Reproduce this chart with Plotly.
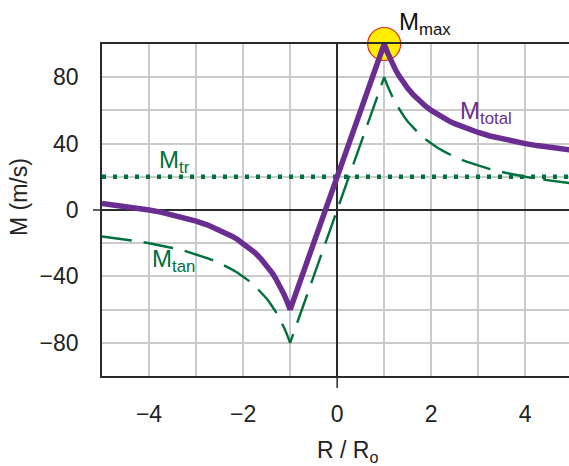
import plotly.graph_objects as go

# Radius (R / Ro) and wind components (m/s)
r_vals = [-5, -4.75, -4.5, -4.25, -4, -3.75, -3.5, -3.25, -3, -2.75,
          -2.5, -2.375, -2.25, -2.125, -2, -1.875, -1.75, -1.625, -1.5,
          -1.4375, -1.375, -1.3125, -1.25, -1.1875, -1.125, -1.0625, -1,
          0,
          1, 1.0625, 1.125, 1.1875, 1.25, 1.3125, 1.375, 1.4375, 1.5,
          1.625, 1.75, 1.875, 2, 2.125, 2.25, 2.375, 2.5,
          2.75, 3, 3.25, 3.5, 3.75, 4, 4.25, 4.5, 4.75, 5]
m_tan = [-16, -16.8, -17.8, -18.8, -20, -21.3, -22.9, -24.6, -26.7, -29.1,
         -32, -33.7, -35.6, -37.6, -40, -42.7, -45.7, -49.2, -53.3,
         -55.7, -58.2, -61.0, -64, -67.4, -71.1, -75.3, -80,
         0,
         80, 75.3, 71.1, 67.4, 64, 61.0, 58.2, 55.7, 53.3,
         49.2, 45.7, 42.7, 40, 37.6, 35.6, 33.7, 32,
         29.1, 26.7, 24.6, 22.9, 21.3, 20, 18.8, 17.8, 16.8, 16]
m_total = [4, 3.2, 2.2, 1.2, 0, -1.3, -2.9, -4.6, -6.7, -9.1,
           -12, -13.7, -15.6, -17.6, -20, -22.7, -25.7, -29.2, -33.3,
           -35.7, -38.2, -41.0, -44, -47.4, -51.1, -55.3, -60,
           20,
           100, 95.3, 91.1, 87.4, 84, 81.0, 78.2, 75.7, 73.3,
           69.2, 65.7, 62.7, 60, 57.6, 55.6, 53.7, 52,
           49.1, 46.7, 44.6, 42.9, 41.3, 40, 38.8, 37.8, 36.8, 36]
tr_x = [-5, 5]
m_tr = [20, 20]
max_x = [1]
max_y = [100]

x_ticks = [-4, -2, 0, 2, 4]
y_ticks = [-80, -40, 0, 40, 80]

purple = "#6a2d91"
green = "#00703c"
dark = "#2a2a2a"
font = "Liberation Sans, Arial, sans-serif"
FS = 23

W, H = 569, 466
# plot area in page pixels: x 102..569, y 44..376
L, R, T, B = 102, 0, 44, 466 - 376
PW, PH = W - L - R, H - T - B


def px_x(px):
    return (px - L) / PW


def px_y(py):
    return (T + PH - py) / PH


fig = go.Figure()
fig.add_trace(go.Scatter(x=max_x, y=max_y, mode="markers",
                         marker=dict(size=33, color="#ffee00",
                                     line=dict(color="#e8262b", width=1.2)),
                         cliponaxis=False, hoverinfo="skip"))
fig.add_trace(go.Scatter(x=tr_x, y=m_tr, mode="lines",
                         line=dict(color=green, width=4.5, dash="4px,7px")))
fig.add_trace(go.Scatter(x=r_vals, y=m_tan, mode="lines",
                         line=dict(color=green, width=2.4, dash="30px,12px")))
fig.add_trace(go.Scatter(x=r_vals, y=m_total, mode="lines",
                         line=dict(color=purple, width=5.5)))

ann_font = dict(family=font, size=24)
fig.add_annotation(x=px_x(397), y=px_y(24), xref="paper", yref="paper",
                   text="M<sub>max</sub>",
                   showarrow=False, xanchor="left", yanchor="middle",
                   font=dict(ann_font, color="#111"))
fig.add_annotation(x=2.58, y=59, xref="x", yref="y", text="M<sub>total</sub>",
                   showarrow=False, xanchor="left", yanchor="middle",
                   font=dict(ann_font, color=purple))
fig.add_annotation(x=-3.82, y=29, xref="x", yref="y", text="M<sub>tr</sub>",
                   showarrow=False, xanchor="left", yanchor="middle",
                   font=dict(ann_font, color=green))
fig.add_annotation(x=-3.97, y=-30.5, xref="x", yref="y", text="M<sub>tan</sub>",
                   showarrow=False, xanchor="left", yanchor="middle",
                   font=dict(ann_font, color=green))

# axis titles as positioned annotations
fig.add_annotation(x=px_x(315), y=px_y(435), xref="paper", yref="paper",
                   text="R / R<sub>o</sub>", showarrow=False,
                   xanchor="left", yanchor="top",
                   font=dict(family=font, size=FS, color="#222"))
fig.add_annotation(x=px_x(19), y=px_y(197), xref="paper", yref="paper",
                   text="M (m/s)", showarrow=False, textangle=-90,
                   xanchor="center", yanchor="middle",
                   font=dict(family=font, size=FS, color="#222"))

# small extensions of the zero lines outside the plot frame
fig.add_shape(type="line", xref="paper", yref="y", x0=px_x(93), x1=0, y0=0, y1=0,
              line=dict(color=dark, width=1.5))
fig.add_shape(type="line", xref="x", yref="paper", x0=0, x1=0, y0=px_y(388), y1=0,
              line=dict(color=dark, width=1.5))

grid = dict(showgrid=True, gridcolor="#cbcbcb", gridwidth=1.5)
fig.update_layout(
    width=W, height=H,
    margin=dict(l=L, r=R, t=T, b=B),
    paper_bgcolor="white", plot_bgcolor="white",
    showlegend=False,
    font=dict(family=font, size=FS, color="#222"),
    xaxis=dict(range=[-5, 4.93], tickvals=x_ticks, automargin=False, **grid,
               zeroline=True, zerolinecolor=dark, zerolinewidth=1.5,
               showline=True, linecolor=dark, linewidth=1.8, mirror=True,
               ticks="", ticklabelstandoff=16,
               minor=dict(dtick=1, tick0=0, **grid)),
    yaxis=dict(range=[-100, 100], tickvals=y_ticks, automargin=False, **grid,
               zeroline=True, zerolinecolor=dark, zerolinewidth=1.5,
               showline=True, linecolor=dark, linewidth=1.8,
               ticks="", ticklabelstandoff=17,
               minor=dict(dtick=20, tick0=0, **grid)),
)

fig.write_html(
    "out.html",
    config={"displayModeBar": False},
    post_script="document.body.style.margin='0';document.body.style.overflow='hidden';",
)
